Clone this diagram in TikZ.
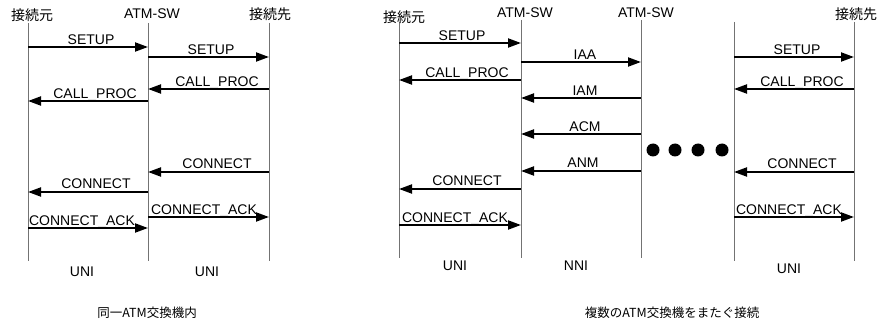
\documentclass[tikz,border=0pt]{standalone}
\usepackage{fontspec}
\setmainfont{Liberation Sans}
\newfontfamily\cjk{Noto Sans CJK JP}
\usetikzlibrary{arrows.meta}
\begin{document}
\begin{tikzpicture}[x=1pt,y=-1pt,
  life/.style={draw=black!55,line width=1pt},
  msg/.style={line width=2pt,-{Triangle[length=13pt,width=9pt]},shorten >=0pt},
  mlabel/.style={font=\fontsize{14}{16}\selectfont,inner sep=0pt,anchor=base},
  head/.style={font=\fontsize{14}{16}\selectfont,inner sep=0pt},
  jhead/.style={font=\cjk\fontsize{14}{16}\selectfont,inner sep=0pt},
  captext/.style={font=\cjk\fontsize{12.5}{15}\selectfont,inner sep=0pt},
  blackdot/.style={circle,fill=black,minimum size=13pt,inner sep=0pt}]
\useasboundingbox (0,0) rectangle (881,323);

% ---------- left diagram ----------
\coordinate (L1t) at (28,23);  \coordinate (L1b) at (28,261);
\coordinate (L2t) at (148,23); \coordinate (L2b) at (148,261);
\coordinate (L3t) at (269,23); \coordinate (L3b) at (269,261);
\draw[life] (L1t) -- (L1b);
\draw[life] (L2t) -- (L2b);
\draw[life] (L3t) -- (L3b);
\node[jhead] (h1) at (32,15) {接続元};
\node[head]  (h2) at (152,14) {ATM-SW};
\node[jhead] (h3) at (270,14) {接続先};

\draw[msg] (L1t|-0,47) -- (L2t|-0,47);
\node[mlabel] (m1) at (91,44.5) {SETUP};
\draw[msg] (L2t|-0,57) -- (L3t|-0,57);
\node[mlabel] (m2) at (211,54.5) {SETUP};
\draw[msg] (L3t|-0,89) -- (L2t|-0,89);
\node[mlabel] (m3) at (217,86.5) {CALL\_PROC};
\draw[msg] (L2t|-0,101) -- (L1t|-0,101);
\node[mlabel] (m4) at (95,98.5) {CALL\_PROC};
\draw[msg] (L3t|-0,172) -- (L2t|-0,172);
\node[mlabel] (m5) at (217,169) {CONNECT};
\draw[msg] (L2t|-0,192) -- (L1t|-0,192);
\node[mlabel] (m6) at (96,189) {CONNECT};
\draw[msg] (L2t|-0,217) -- (L3t|-0,217);
\node[mlabel] (m7) at (204,214.5) {CONNECT\_ACK};
\draw[msg] (L1t|-0,228) -- (L2t|-0,228);
\node[mlabel] (m8) at (82,225.5) {CONNECT\_ACK};

\node[head] (u1) at (82,272) {UNI};
\node[head] (u2) at (207,272) {UNI};
\node[captext] (c1) at (147,313) {同一ATM交換機内};

% ---------- right diagram ----------
\coordinate (R1t) at (399,22); \coordinate (R1b) at (399,258);
\coordinate (R2t) at (521,20); \coordinate (R2b) at (521,258);
\coordinate (R3t) at (641,20); \coordinate (R3b) at (641,258);
\coordinate (R4t) at (734,22); \coordinate (R4b) at (734,261);
\coordinate (R5t) at (854,22); \coordinate (R5b) at (854,261);
\draw[life] (R1t) -- (R1b);
\draw[life] (R2t) -- (R2b);
\draw[life] (R3t) -- (R3b);
\draw[life] (R4t) -- (R4b);
\draw[life] (R5t) -- (R5b);
\node[jhead] (h4) at (404,17) {接続元};
\node[head]  (h5) at (525,13) {ATM-SW};
\node[head]  (h6) at (646,13) {ATM-SW};
\node[jhead] (h7) at (856,14) {接続先};

\draw[msg] (R1t|-0,43) -- (R2t|-0,43);
\node[mlabel] (n1) at (462,40.5) {SETUP};
\draw[msg] (R2t|-0,62) -- (R3t|-0,62);
\node[mlabel] (n2) at (585,59.5) {IAA};
\draw[msg] (R2t|-0,80) -- (R1t|-0,80);
\node[mlabel] (n3) at (467,77.5) {CALL\_PROC};
\draw[msg] (R3t|-0,98) -- (R2t|-0,98);
\node[mlabel] (n4) at (585,95.5) {IAM};
\draw[msg] (R3t|-0,134) -- (R2t|-0,134);
\node[mlabel] (n5) at (585,131.5) {ACM};
\draw[msg] (R3t|-0,171) -- (R2t|-0,171);
\node[mlabel] (n6) at (583,168) {ANM};
\draw[msg] (R2t|-0,189) -- (R1t|-0,189);
\node[mlabel] (n7) at (467,186) {CONNECT};
\draw[msg] (R1t|-0,225) -- (R2t|-0,225);
\node[mlabel] (n8) at (455,222.5) {CONNECT\_ACK};

\draw[msg] (R4t|-0,57) -- (R5t|-0,57);
\node[mlabel] (k1) at (797,54.5) {SETUP};
\draw[msg] (R5t|-0,89) -- (R4t|-0,89);
\node[mlabel] (k2) at (802,86.5) {CALL\_PROC};
\draw[msg] (R5t|-0,172) -- (R4t|-0,172);
\node[mlabel] (k3) at (802,169) {CONNECT};
\draw[msg] (R4t|-0,217) -- (R5t|-0,217);
\node[mlabel] (k4) at (789,214.5) {CONNECT\_ACK};

\node[blackdot] (d1) at (653,150) {};
\node[blackdot] (d2) at (675,150) {};
\node[blackdot] (d3) at (698,150) {};
\node[blackdot] (d4) at (722,150) {};

\node[head] (u3) at (455,266) {UNI};
\node[head] (u4) at (576,266) {NNI};
\node[head] (u5) at (789,269) {UNI};
\node[captext] (c2) at (672,313) {複数のATM交換機をまたぐ接続};
\end{tikzpicture}
\end{document}
